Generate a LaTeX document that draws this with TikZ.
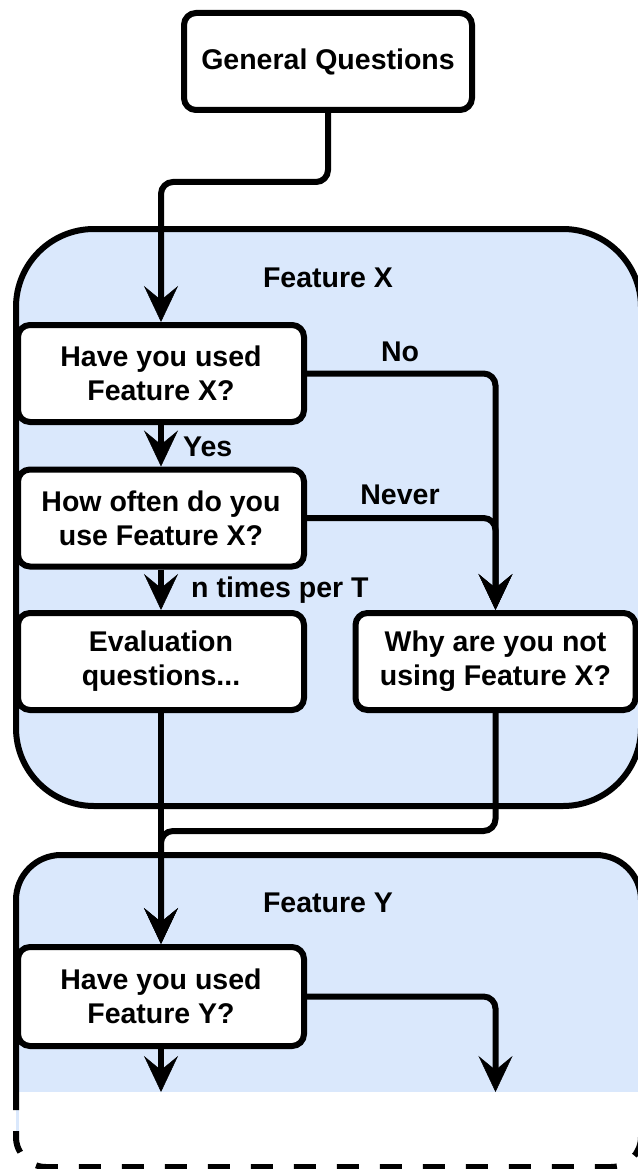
\documentclass[tikz,border=0pt]{standalone}
\usepackage{fontspec}
\setmainfont{Liberation Sans}
\usetikzlibrary{arrows.meta}
\definecolor{panelblue}{HTML}{DAE8FC}
\begin{document}
\begin{tikzpicture}[x=1pt,y=-1pt,
  every node/.style={font=\fontsize{28.5}{34.2}\selectfont\bfseries},
  qbox/.style={draw, line width=6pt, rounded corners=12pt, fill=white,
    minimum width=286pt, minimum height=97pt, inner sep=0pt, align=center},
  tip/.tip={Stealth[length=36pt,width=34pt,inset=14pt,line width=0.5pt]},
  conn/.style={line width=6pt, rounded corners=12pt, -tip},
  panel/.style={line width=6pt, fill=panelblue},
  lbl/.style={inner sep=0pt},
]
\useasboundingbox (0,0) rectangle (637,1169);

% Feature X panel
\draw[panel, rounded corners=78pt] (16,229) rectangle (641,806);
\node[lbl] (fxlabel) at (328,278) {Feature X};

% Feature Y panel, cut off at the bottom
\fill[panelblue] (16,1000) [rounded corners=45pt] -- (16,855) -- (641,855) -- (641,1000)
  [rounded corners=30pt] -- (641,1167) -- (16,1167) -- cycle;
\fill[white] (19,1092) rectangle (645,1175);
\draw[line width=6pt] (16,1110) [rounded corners=45pt] -- (16,855) -- (641,855) -- (641,1092);
\draw[line width=6pt, dash pattern=on 22pt off 21pt, dash phase=22pt]
  (16,1110) [rounded corners=30pt] -- (16,1167) -- (641,1167) -- (641,1110);
\node[lbl] (fylabel) at (328,903) {Feature Y};

% question boxes
\node[qbox, minimum width=288pt] (gq) at (328,61.5) {General Questions};
\node[qbox] (hx) at (161,373.5) {Have you used\\Feature X?};
\node[qbox] (how) at (161,518) {How often do you\\use Feature X?};
\node[qbox] (eval) at (161,661.5) {Evaluation\\questions...};
\node[qbox, minimum width=280pt] (why) at (495.5,661.5) {Why are you not\\using Feature X?};
\node[qbox, minimum height=99pt] (hy) at (161,996.5) {Have you used\\Feature Y?};

% bend points and open ends
\coordinate (j1) at (161,182);
\coordinate (j2) at (161,831);
\coordinate (e1) at (161,1092);
\coordinate (e2) at (495.5,1092);

% connectors
\draw[conn] (gq.south) |- (j1) -- (hx.north);
\draw[conn] (hx.south) -- (how.north);
\draw[conn] (how.south) -- (eval.north);
\draw[conn] (hx.east) -| (why.north);
\draw[conn] (how.east) -| (why.north);
\draw[conn] (eval.south) -- (hy.north);
\draw[conn] (why.south) |- (j2) -- (hy.north);
\draw[conn] (hy.south) -- (e1);
\draw[conn] (hy.east) -| (e2);

% branch labels
\node[lbl, anchor=west] (yes) at (183,447) {Yes};
\node[lbl, anchor=west] (ntimes) at (191,590) {n times per T};
\node[lbl] (no) at (400,352) {No};
\node[lbl] (never) at (400,495) {Never};
\end{tikzpicture}
\end{document}
